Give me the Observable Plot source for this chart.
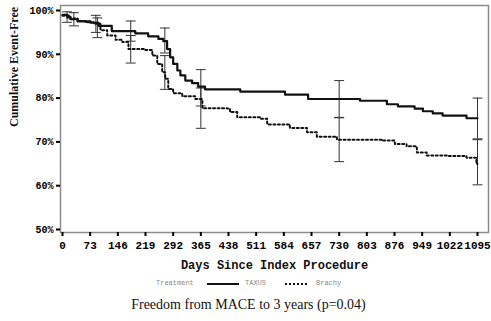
<!DOCTYPE html>
<html><head><meta charset="utf-8">
<script src="https://cdn.jsdelivr.net/npm/d3@7"></script>
<script src="https://cdn.jsdelivr.net/npm/@observablehq/plot@0.6"></script>
<style>
body{margin:0;background:#fff;width:491px;overflow:hidden;}
#chart svg{display:block;}
#legend{position:relative;height:20px;font-family:"Liberation Mono",monospace;font-size:7px;color:#8a8a8a;}
#legend span{position:absolute;top:7px;}
#legend i{position:absolute;top:11px;height:0;}
#caption{font-family:"Liberation Serif",serif;font-size:14px;color:#111;text-align:center;width:491px;margin-left:3px;margin-top:5px;}
</style></head>
<body>
<div id="chart"></div>
<div id="legend">
  <span style="left:156px">Treatment</span>
  <i style="left:207px;width:32px;border-top:2px solid #111"></i>
  <span style="left:245px">TAXUS</span>
  <i style="left:285px;width:22px;border-top:2px dotted #111"></i>
  <span style="left:316px">Brachy</span>
</div>
<div id="caption">Freedom from MACE to 3 years (p=0.04)</div>
<script>
const xTicks = [0,73,146,219,292,365,438,511,584,657,730,803,876,949,1022,1095];
const yTicks = [50,60,70,80,90,100];

const taxusDays = [0,13,21,40,74,95,130,148,192,226,253,266,276,284,292,303,311,324,342,358,376,469,587,648,785,856,885,929,951,977,1003,1066,1095];
const taxusVals = [99.0,98.4,98.0,97.5,97.2,96.5,95.3,95.3,94.8,94.1,93.5,93.0,91.2,89.3,87.8,86.3,85.2,84.0,83.4,82.6,82.0,81.5,80.8,79.8,79.4,78.6,78.1,77.6,77.0,76.5,76.0,75.4,75.4];

const brachyDays = [0,21,40,61,82,100,118,140,158,174,219,237,250,263,271,279,292,316,350,369,434,442,461,521,540,600,645,671,724,845,877,908,935,961,1014,1066,1092,1095];
const brachyVals = [98.8,98.2,97.6,97.3,97.0,95.5,94.3,93.3,92.8,91.2,91.0,89.7,87.8,85.9,84.4,82.1,81.1,80.4,79.8,77.7,77.6,76.8,75.6,75.3,74.0,73.2,72.2,71.2,70.5,70.3,69.5,69.0,67.6,66.9,66.8,66.4,65.0,65.0];

const taxusCIDays = [12,88,180,270,365,730,1095];
const taxusCILo = [97.3,95.0,93.0,90.3,78.2,75.5,70.7];
const taxusCIHi = [99.7,98.9,97.6,96.0,86.5,84.0,80.0];
const brachyCIDays = [30,92,180,270,365,730,1095];
const brachyCILo = [96.5,93.8,88.0,82.0,73.1,65.5,60.2];
const brachyCIHi = [99.5,98.3,94.3,89.7,82.3,75.6,70.5];

const taxus = taxusDays.map((d,i)=>({day:d, v:taxusVals[i]}));
const brachy = brachyDays.map((d,i)=>({day:d, v:brachyVals[i]}));
const ci = [
  ...taxusCIDays.map((d,i)=>({day:d, lo:taxusCILo[i], hi:taxusCIHi[i]})),
  ...brachyCIDays.map((d,i)=>({day:d, lo:brachyCILo[i], hi:brachyCIHi[i]}))
];
const cap = 13;
const mono = "Liberation Mono, DejaVu Sans Mono, monospace";

const chart = Plot.plot({
  width: 491, height: 272,
  marginLeft: 60, marginRight: 3, marginTop: 5, marginBottom: 40,
  insetTop: 5, insetBottom: 3, insetLeft: 2, insetRight: 11,
  x: {domain: [0,1095]},
  y: {domain: [50,100]},
  marks: [
    Plot.frame({stroke: "#8c8c8c", strokeWidth: 1.5}),
    Plot.axisY({ticks: yTicks, tickFormat: d => d + "%", tickSize: 4, tickPadding: 3,
      fontFamily: mono, fontWeight: "bold", fontSize: 10, label: null, line: true, strokeWidth: 2}),
    Plot.axisX({ticks: xTicks, tickFormat: d => String(d), tickSize: 4, tickPadding: 5,
      fontFamily: mono, fontWeight: "bold", fontSize: 11, label: null, line: true, strokeWidth: 2}),
    Plot.text(["Days Since Index Procedure"], {frameAnchor: "bottom", dy: 36,
      fontFamily: mono, fontWeight: "bold", fontSize: 12, fill: "#111"}),
    Plot.text(["Cumulative Event-Free"], {frameAnchor: "left", dx: -46, dy: 8, rotate: -90,
      fontFamily: "Liberation Serif, serif", fontWeight: "bold", fontSize: 12, fill: "#111"}),
    Plot.ruleX(ci, {x: "day", y1: "lo", y2: "hi", stroke: "#333", strokeWidth: 1}),
    Plot.link(ci, {x1: d => d.day - cap, x2: d => d.day + cap, y1: "lo", y2: "lo", stroke: "#333", strokeWidth: 1}),
    Plot.link(ci, {x1: d => d.day - cap, x2: d => d.day + cap, y1: "hi", y2: "hi", stroke: "#333", strokeWidth: 1}),
    Plot.line(taxus, {x: "day", y: "v", curve: "step-after", stroke: "#111", strokeWidth: 2.2}),
    Plot.line(brachy, {x: "day", y: "v", curve: "step-after", stroke: "#111", strokeWidth: 2, strokeDasharray: "2,2.5"})
  ]
});
document.getElementById("chart").appendChild(chart);
</script>
</body></html>
